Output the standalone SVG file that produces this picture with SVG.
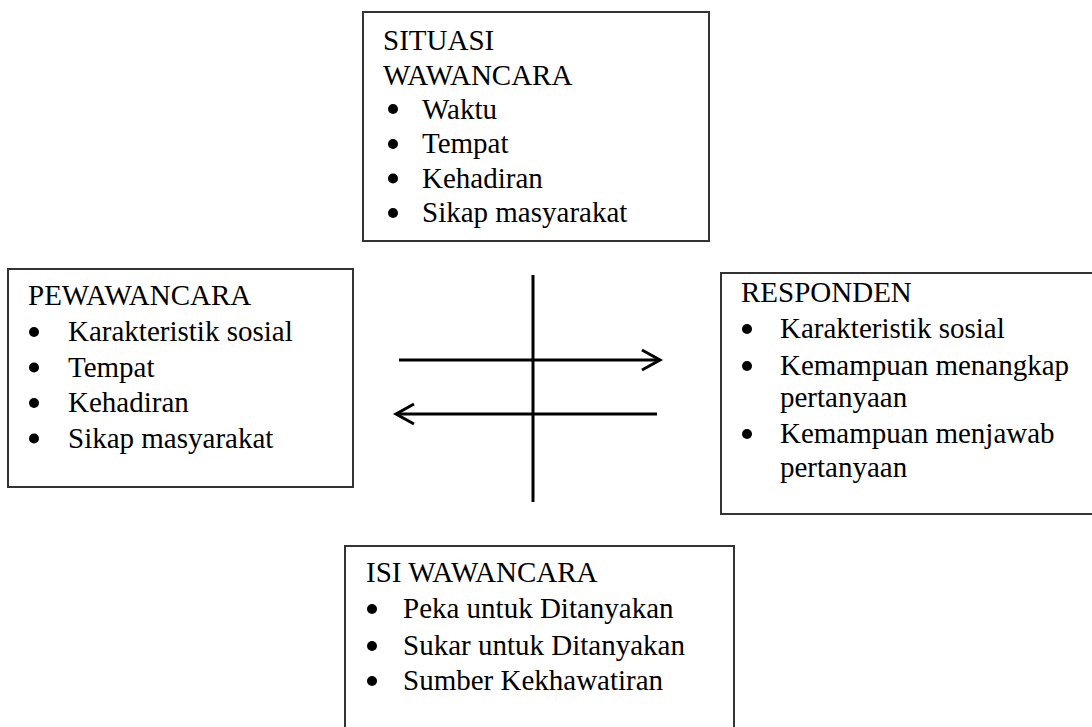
<svg xmlns="http://www.w3.org/2000/svg" width="1092" height="727" viewBox="0 0 1092 727">
<style>
.box{fill:#fff;stroke:#333;stroke-width:2}
.t{font-family:"Liberation Serif","Times New Roman",serif;font-size:29px;fill:#000}
.b{fill:#000}
.ln{stroke:#000;stroke-width:3;fill:none;stroke-linecap:butt}
</style>
<rect width="1092" height="727" fill="#fff"/>
<g id="situasi">
<rect class="box" x="363" y="12" width="346" height="229"/>
<text class="t" x="383" y="50">SITUASI</text>
<text class="t" x="383" y="84.5">WAWANCARA</text>
<circle class="b" cx="393" cy="109" r="5"/><text class="t" x="422" y="118.5">Waktu</text>
<circle class="b" cx="393" cy="144" r="5"/><text class="t" x="422" y="153">Tempat</text>
<circle class="b" cx="393" cy="178.5" r="5"/><text class="t" x="422" y="187.5">Kehadiran</text>
<circle class="b" cx="393" cy="213" r="5"/><text class="t" x="422" y="222">Sikap masyarakat</text>
</g>
<g id="pewawancara">
<rect class="box" x="8" y="269" width="345" height="218"/>
<text class="t" x="28" y="305">PEWAWANCARA</text>
<circle class="b" cx="34" cy="332" r="5"/><text class="t" x="68" y="341">Karakteristik sosial</text>
<circle class="b" cx="34" cy="367.5" r="5"/><text class="t" x="68" y="376.5">Tempat</text>
<circle class="b" cx="34" cy="403" r="5"/><text class="t" x="68" y="412">Kehadiran</text>
<circle class="b" cx="34" cy="438.5" r="5"/><text class="t" x="68" y="447.5">Sikap masyarakat</text>
</g>
<g id="responden">
<rect class="box" x="721" y="273" width="374" height="241"/>
<text class="t" x="741" y="301.5">RESPONDEN</text>
<circle class="b" cx="747" cy="329" r="5"/><text class="t" x="780" y="338">Karakteristik sosial</text>
<circle class="b" cx="747" cy="366" r="5"/><text class="t" x="780" y="375">Kemampuan menangkap</text>
<text class="t" x="780" y="407">pertanyaan</text>
<circle class="b" cx="747" cy="434" r="5"/><text class="t" x="780" y="443">Kemampuan menjawab</text>
<text class="t" x="780" y="476.5">pertanyaan</text>
</g>
<g id="isi">
<rect class="box" x="345" y="546" width="389" height="200"/>
<text class="t" x="366" y="581.5">ISI WAWANCARA</text>
<circle class="b" cx="372" cy="609" r="5"/><text class="t" x="403" y="618">Peka untuk Ditanyakan</text>
<circle class="b" cx="372" cy="646" r="5"/><text class="t" x="403" y="655">Sukar untuk Ditanyakan</text>
<circle class="b" cx="372" cy="681" r="5"/><text class="t" x="403" y="690">Sumber Kekhawatiran</text>
</g>
<g id="connectors">
<line class="ln" x1="533" y1="275" x2="533" y2="502"/>
<line class="ln" x1="399" y1="360" x2="658" y2="360"/>
<polyline class="ln" points="642,350 660,360 642,370"/>
<line class="ln" x1="398" y1="414" x2="657" y2="414"/>
<polyline class="ln" points="414,404 396,414 414,424"/>
</g>
</svg>
